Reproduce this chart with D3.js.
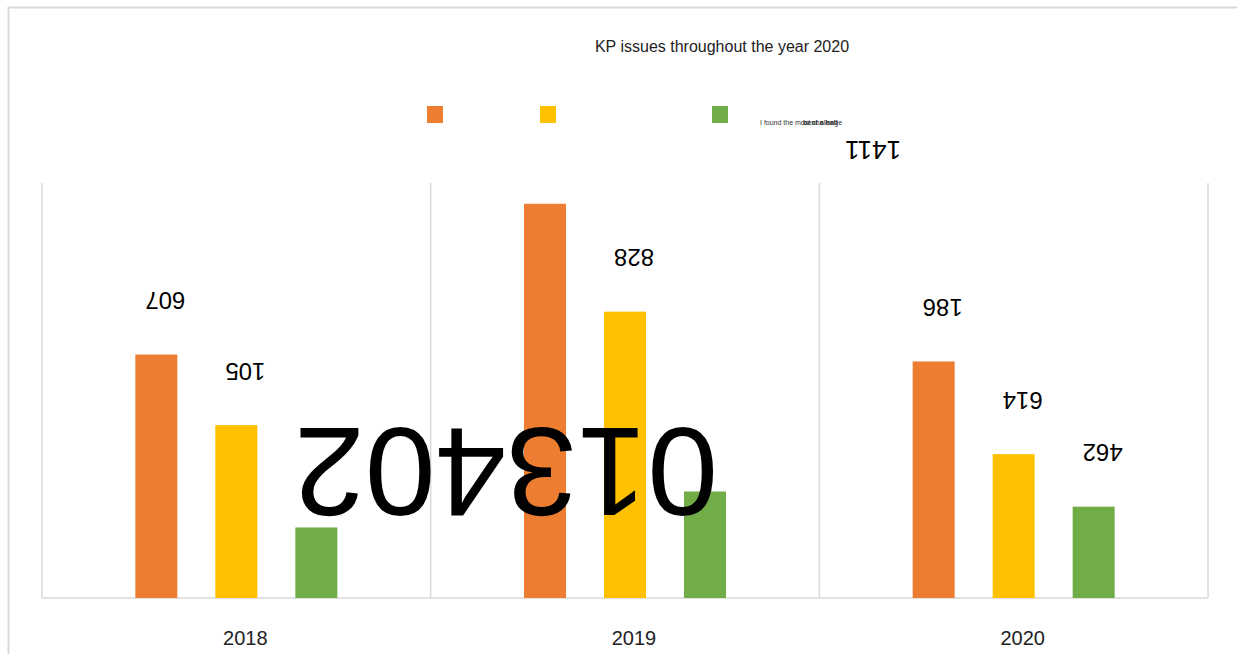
<!DOCTYPE html>
<html>
<head>
<meta charset="utf-8">
<script src="https://cdnjs.cloudflare.com/ajax/libs/d3/7.8.5/d3.min.js"></script>
<style>
  body { margin: 0; background: #fff; }
  text { font-family: Arial, "Liberation Sans", sans-serif; }
</style>
</head>
<body>
<div id="chart"></div>
<script>

var years = ['2018', '2019', '2020'];
var keys = ['orange', 'yellow', 'green'];
var orangeVals = [880, 1425, 855];
var yellowVals = [625, 1035, 520];
var greenVals = [255, 385, 330];
// labels printed on the chart (upside down in the original)
var labelText = [['607', '105', null], ['1411', '828', '013402'], ['186', '614', '462']];
var colors = ['#ED7D31', '#FFC000', '#70AD47'];

var width = 1237, height = 654;

var svg = d3.select('#chart').append('svg')
    .attr('width', width)
    .attr('height', height);

// outer frame
svg.append('rect')
    .attr('x', 8.5).attr('y', 7.5)
    .attr('width', 1260).attr('height', 700)
    .attr('fill', 'none')
    .attr('stroke', '#d9d9d9')
    .attr('stroke-width', 2);

var data = years.map(function(y, i) {
  return {year: y, orange: orangeVals[i], yellow: yellowVals[i], green: greenVals[i]};
});

var x0 = d3.scaleBand().domain(years).range([42, 1208]).paddingInner(0).paddingOuter(0);
var mid = x0.bandwidth() / 2;
var x1 = d3.scaleBand().domain(keys).range([mid - 120, mid + 120]).paddingInner(0.475).paddingOuter(0.2375);
var y = d3.scaleLinear().domain([0, 1500]).range([598, 183]);
var z = d3.scaleOrdinal().domain(keys).range(colors);

// vertical grid lines between categories
var edges = years.map(function(d) { return x0(d); }).concat([x0.range()[1]]);
svg.selectAll('.vgrid')
    .data(edges)
    .enter().append('line')
    .attr('class', 'vgrid')
    .attr('x1', function(d) { return d; })
    .attr('x2', function(d) { return d; })
    .attr('y1', y(1500))
    .attr('y2', y(0))
    .attr('stroke', '#d9d9d9')
    .attr('stroke-width', 1.5);

svg.append('line')
    .attr('x1', x0.range()[0]).attr('x2', x0.range()[1])
    .attr('y1', y(0)).attr('y2', y(0))
    .attr('stroke', '#d9d9d9')
    .attr('stroke-width', 1.5);

var groups = svg.selectAll('.grp')
    .data(data)
    .enter().append('g')
    .attr('class', 'grp')
    .attr('transform', function(d) { return 'translate(' + x0(d.year) + ',0)'; });

groups.selectAll('rect')
    .data(function(d) { return keys.map(function(k) { return {key: k, value: d[k]}; }); })
    .enter().append('rect')
    .attr('x', function(d) { return x1(d.key); })
    .attr('y', function(d) { return y(d.value); })
    .attr('width', x1.bandwidth())
    .attr('height', function(d) { return y(0) - y(d.value); })
    .attr('fill', function(d) { return z(d.key); });

// data labels, rotated 180 degrees like the source
var labels = [];
data.forEach(function(d, i) {
  keys.forEach(function(k, j) {
    var t = labelText[i][j];
    if (!t) return;
    var cx = x0(d.year) + x1(k) + x1.bandwidth() / 2 + 9;
    var cy = y(d[k]) - 54;
    var size = 24;
    if (t === '1411') { cx += 319; size = 26; }
    if (t === '013402') { cx -= 208; cy += 35; size = 127; }
    labels.push({text: t, cx: cx, cy: cy, size: size});
  });
});

svg.selectAll('.dlabel')
    .data(labels)
    .enter().append('text')
    .attr('class', 'dlabel')
    .attr('x', function(d) { return d.cx; })
    .attr('y', function(d) { return d.cy; })
    .attr('text-anchor', 'middle')
    .attr('dominant-baseline', 'central')
    .attr('transform', function(d) { return 'rotate(180,' + d.cx + ',' + d.cy + ')'; })
    .style('font-size', function(d) { return d.size + 'px'; })
    .attr('fill', '#000')
    .text(function(d) { return d.text; });

// x axis labels
svg.selectAll('.xlab')
    .data(years)
    .enter().append('text')
    .attr('class', 'xlab')
    .attr('x', function(d) { return x0(d) + mid + 9; })
    .attr('y', 645)
    .attr('text-anchor', 'middle')
    .style('font-size', '20px')
    .attr('fill', '#222')
    .text(function(d) { return d; });

// title
svg.append('text')
    .attr('x', 722)
    .attr('y', 52)
    .attr('text-anchor', 'middle')
    .style('font-size', '16px')
    .attr('fill', '#222')
    .text('KP issues throughout the year 2020');

// legend
var legendX = [427, 540, 712];
svg.selectAll('.leg')
    .data(keys)
    .enter().append('rect')
    .attr('class', 'leg')
    .attr('x', function(d, i) { return legendX[i]; })
    .attr('y', 106)
    .attr('width', 16)
    .attr('height', 17)
    .attr('fill', function(d) { return z(d); });

svg.append('text')
    .attr('x', 760).attr('y', 125)
    .style('font-size', '7px')
    .attr('fill', '#333')
    .text('I found the most challenge');

svg.append('text')
    .attr('x', 803).attr('y', 125)
    .style('font-size', '7px')
    .style('font-weight', 'bold')
    .attr('fill', '#333')
    .text('bent a hall');

</script>
</body>
</html>
